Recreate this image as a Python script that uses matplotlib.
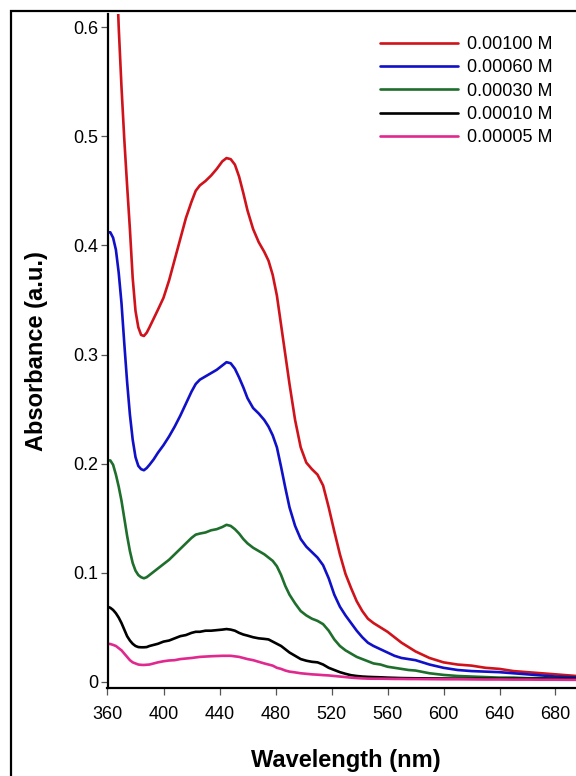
"""UV-vis absorbance spectra at several concentrations."""

import matplotlib.pyplot as plt
from matplotlib.patches import Rectangle
import numpy as np

plt.rcParams["font.family"] = ["Liberation Sans", "DejaVu Sans"]

wavelength = np.array([
    360, 362, 364, 366, 368, 370, 372, 374, 376, 378,
    380, 382, 384, 386, 388, 390, 393, 396, 400, 404,
    408, 412, 416, 420, 423, 426, 430, 434, 438, 442,
    445, 448, 451, 454, 457, 460, 464, 468, 472, 475,
    478, 481, 484, 487, 490, 494, 498, 502, 506, 510,
    514, 518, 522, 526, 530, 534, 538, 542, 546, 550,
    555, 560, 565, 570, 575, 580, 590, 600, 610, 620,
    630, 640, 650, 660, 670, 680, 690, 700,
])

abs_1000 = np.array([
    0.950, 0.850, 0.760, 0.670, 0.600, 0.545, 0.497, 0.455, 0.415, 0.370,
    0.340, 0.325, 0.318, 0.317, 0.320, 0.325, 0.333, 0.341, 0.352, 0.368,
    0.387, 0.406, 0.425, 0.440, 0.450, 0.455, 0.459, 0.464, 0.470, 0.477,
    0.480, 0.479, 0.474, 0.463, 0.448, 0.432, 0.415, 0.403, 0.394, 0.386,
    0.373, 0.354, 0.327, 0.300, 0.273, 0.240, 0.215, 0.201, 0.195, 0.190,
    0.180, 0.160, 0.138, 0.117, 0.099, 0.086, 0.074, 0.065, 0.058, 0.054,
    0.050, 0.046, 0.041, 0.036, 0.032, 0.028, 0.022, 0.018, 0.016, 0.015,
    0.013, 0.012, 0.010, 0.009, 0.008, 0.007, 0.006, 0.005,
])
abs_0600 = np.array([
    0.412, 0.412, 0.407, 0.396, 0.375, 0.347, 0.310, 0.275, 0.245, 0.222,
    0.206, 0.198, 0.195, 0.194, 0.196, 0.199, 0.204, 0.210, 0.217, 0.225,
    0.234, 0.244, 0.255, 0.266, 0.273, 0.277, 0.280, 0.283, 0.286, 0.290,
    0.293, 0.292, 0.287, 0.279, 0.270, 0.260, 0.251, 0.246, 0.240, 0.234,
    0.226, 0.215, 0.197, 0.178, 0.160, 0.143, 0.131, 0.124, 0.119, 0.114,
    0.107, 0.095, 0.080, 0.069, 0.061, 0.054, 0.047, 0.041, 0.036, 0.033,
    0.030, 0.027, 0.024, 0.022, 0.021, 0.020, 0.016, 0.013, 0.011, 0.010,
    0.0095, 0.009, 0.008, 0.007, 0.006, 0.005, 0.0045, 0.004,
])
abs_0300 = np.array([
    0.203, 0.203, 0.199, 0.190, 0.179, 0.166, 0.150, 0.134, 0.120, 0.109,
    0.102, 0.098, 0.096, 0.095, 0.096, 0.098, 0.101, 0.104, 0.108, 0.112,
    0.117, 0.122, 0.127, 0.132, 0.135, 0.136, 0.137, 0.139, 0.140, 0.142,
    0.144, 0.143, 0.140, 0.136, 0.131, 0.127, 0.123, 0.120, 0.117, 0.114,
    0.111, 0.106, 0.098, 0.088, 0.080, 0.072, 0.065, 0.061, 0.058, 0.056,
    0.053, 0.047, 0.039, 0.033, 0.029, 0.026, 0.023, 0.021, 0.019, 0.017,
    0.016, 0.014, 0.013, 0.012, 0.011, 0.0105, 0.008, 0.0065, 0.0055, 0.005,
    0.0045, 0.004, 0.004, 0.0035, 0.0035, 0.003, 0.003, 0.003,
])
abs_0100 = np.array([
    0.069, 0.068, 0.066, 0.063, 0.059, 0.054, 0.048, 0.042, 0.038, 0.035,
    0.033, 0.032, 0.0318, 0.0318, 0.032, 0.033, 0.034, 0.035, 0.037, 0.038,
    0.040, 0.042, 0.043, 0.045, 0.046, 0.046, 0.047, 0.047, 0.0475, 0.048,
    0.0485, 0.048, 0.047, 0.045, 0.0435, 0.0425, 0.041, 0.040, 0.0395, 0.039,
    0.037, 0.035, 0.033, 0.030, 0.027, 0.024, 0.021, 0.0195, 0.0185, 0.018,
    0.016, 0.013, 0.011, 0.009, 0.0075, 0.0062, 0.0055, 0.005, 0.0047, 0.0045,
    0.0043, 0.004, 0.0038, 0.0036, 0.0035, 0.0034, 0.0033, 0.0032, 0.0031, 0.003,
    0.003, 0.003, 0.003, 0.003, 0.003, 0.003, 0.003, 0.003,
])
abs_0050 = np.array([
    0.035, 0.0348, 0.034, 0.033, 0.031, 0.029, 0.026, 0.023, 0.020, 0.018,
    0.017, 0.016, 0.0157, 0.0156, 0.0158, 0.016, 0.017, 0.018, 0.019, 0.0197,
    0.020, 0.021, 0.0215, 0.022, 0.0225, 0.023, 0.0233, 0.0236, 0.0238, 0.024,
    0.024, 0.024, 0.0235, 0.023, 0.022, 0.021, 0.020, 0.0185, 0.017, 0.016,
    0.015, 0.013, 0.012, 0.0105, 0.0095, 0.0088, 0.008, 0.0075, 0.007, 0.0067,
    0.0063, 0.006, 0.0055, 0.005, 0.0045, 0.004, 0.0036, 0.0033, 0.0031, 0.003,
    0.003, 0.0029, 0.0028, 0.0028, 0.0027, 0.0027, 0.0026, 0.0025, 0.0025, 0.0024,
    0.0023, 0.0023, 0.0022, 0.0022, 0.0021, 0.0021, 0.002, 0.002,
])

labels = ["0.00100 M", "0.00060 M", "0.00030 M", "0.00010 M", "0.00005 M"]
colors = ["#d0121b", "#1010c8", "#1e6e2c", "#000000", "#e0288e"]
series = [abs_1000, abs_0600, abs_0300, abs_0100, abs_0050]

x_ticks = np.arange(360, 700, 40)
y_ticks = [0, 0.1, 0.2, 0.3, 0.4, 0.5, 0.6]
y_ticklabels = ["0", "0.1", "0.2", "0.3", "0.4", "0.5", "0.6"]

W, H = 576, 776
fig = plt.figure(figsize=(W / 100, H / 100), dpi=100)

# outer frame, cut off at the right and bottom like the source image
fig.patches.append(Rectangle((11 / W, -0.1), 1.2, 1 - 11 / H + 0.1,
                             transform=fig.transFigure, fill=False,
                             edgecolor="black", linewidth=1.6))

ax = fig.add_axes([107.5 / W, 1 - 688 / H, 476 / W, 674 / H])

for y, label, color in zip(series, labels, colors):
    ax.plot(wavelength, y, color=color, linewidth=1.9, label=label,
            solid_joinstyle="round", solid_capstyle="round")

ax.set_xlim(360, 700)
ax.set_ylim(-0.0055, 0.612)
ax.set_xticks(x_ticks)
ax.set_yticks(y_ticks)
ax.set_yticklabels(y_ticklabels)

for side in ("top", "right"):
    ax.spines[side].set_visible(False)
for side in ("left", "bottom"):
    ax.spines[side].set_linewidth(1.6)

ax.tick_params(axis="both", direction="out", length=5, width=0.9,
               color="#555555", labelsize=13)
ax.tick_params(axis="x", pad=8)
ax.tick_params(axis="y", pad=1.5)

ax.set_xlabel("Wavelength (nm)", fontsize=17, fontweight="bold", labelpad=19)
ax.set_ylabel("Absorbance (a.u.)", fontsize=17, fontweight="bold", labelpad=18)

ax.legend(loc="upper left", bbox_to_anchor=(380 / W, 1 - 36 / H),
          bbox_transform=fig.transFigure, frameon=False, fontsize=13,
          handlelength=4.3, handletextpad=0.5, labelspacing=0.35,
          borderpad=0, borderaxespad=0)

fig.savefig("out.png", dpi=100)
